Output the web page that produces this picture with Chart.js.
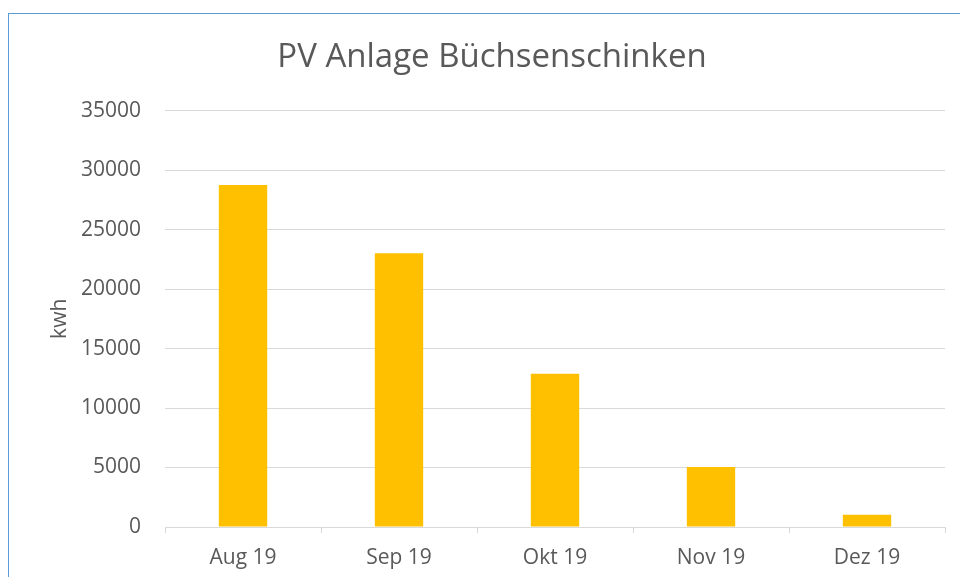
<!DOCTYPE html>
<html>
<head>
<meta charset="utf-8">
<script src="https://cdn.jsdelivr.net/npm/chart.js@4"></script>
<style>
    html, body { margin: 0; padding: 0; background: #fff; overflow: hidden; width: 960px; height: 577px; }
    #frame {
        position: absolute;
        left: 8px;
        top: 13px;
        border: 1px solid #5B9BD5;
        background: #fff;
    }
    canvas { display: block; }
</style>
</head>
<body>
<div id="frame">
    <canvas id="chartCanvas" width="966" height="600"></canvas>
</div>
<script>
const months = ['Aug 19', 'Sep 19', 'Okt 19', 'Nov 19', 'Dez 19'];
const kwhValues = [28750, 23000, 12880, 5050, 1030];
const yTicks = [0, 5000, 10000, 15000, 20000, 25000, 30000, 35000];

const textColor = '#595959';
const gridColor = '#D9D9D9';
const fontFamily = "'Open Sans', 'Noto Sans', sans-serif";

const ctx = document.getElementById('chartCanvas');

new Chart(ctx, {
    type: 'bar',
    data: {
        labels: months,
        datasets: [{
            label: 'kwh',
            data: kwhValues,
            backgroundColor: '#FFC000',
            borderWidth: 0,
            barPercentage: 0.31,
            categoryPercentage: 1
        }]
    },
    options: {
        responsive: false,
        animation: false,
        // equal side padding keeps the title centred on the whole frame
        layout: {
            padding: { left: 30, right: 30, top: 0, bottom: 0 }
        },
        plugins: {
            legend: { display: false },
            tooltip: { enabled: false },
            title: {
                display: true,
                text: 'PV Anlage Büchsenschinken',
                color: textColor,
                font: { family: fontFamily, size: 33, weight: 'normal' },
                padding: { top: 24, bottom: 33 }
            }
        },
        scales: {
            x: {
                offset: true,
                grid: {
                    offset: true,
                    drawOnChartArea: false,
                    drawTicks: true,
                    tickLength: 6,
                    color: gridColor
                },
                border: { display: true, color: gridColor, width: 1 },
                ticks: {
                    color: textColor,
                    padding: 12,
                    font: { family: fontFamily, size: 21 }
                },
                afterFit(scale) {
                    scale.height = 87;
                }
            },
            y: {
                min: 0,
                max: 35000,
                afterBuildTicks(scale) {
                    scale.ticks = yTicks.map(v => ({ value: v }));
                },
                grid: {
                    drawTicks: false,
                    color: gridColor,
                    lineWidth: 1
                },
                border: { display: false },
                ticks: {
                    color: textColor,
                    padding: 24,
                    font: { family: fontFamily, size: 21 },
                    callback: value => String(value)
                },
                title: {
                    display: true,
                    text: 'kwh',
                    color: textColor,
                    font: { family: fontFamily, size: 21 },
                    padding: { top: 8, bottom: 0 }
                },
                afterFit(scale) {
                    scale.width = 126;
                }
            }
        }
    }
});
</script>
</body>
</html>
